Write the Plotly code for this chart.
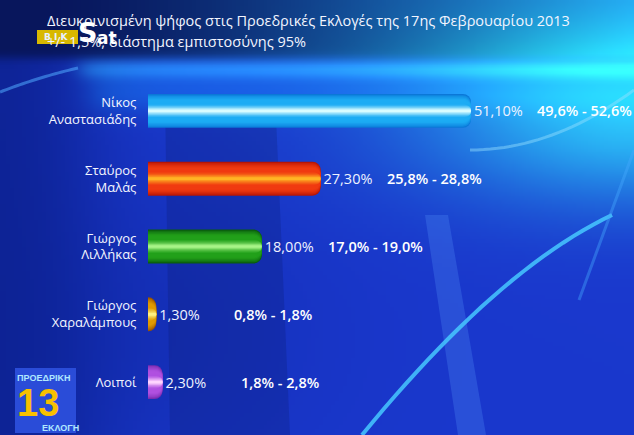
import base64, struct, zlib, math
import plotly.graph_objects as go

# ---------------- data ----------------
candidates = ["Νίκος<br>Αναστασιάδης", "Σταύρος<br>Μαλάς", "Γιώργος<br>Λιλλήκας",
              "Γιώργος<br>Χαραλάμπους", "Λοιποί"]
values = [51.1, 27.3, 18.0, 1.3, 2.3]
value_labels = ["51,10%", "27,30%", "18,00%", "1,30%", "2,30%"]
ci_labels = ["49,6% - 52,6%", "25,8% - 28,8%", "17,0% - 19,0%", "0,8% - 1,8%", "1,8% - 2,8%"]
title_line1 = "Διευκρινισμένη ψήφος στις Προεδρικές Εκλογές της 17ης Φεβρουαρίου 2013"
title_line2 = "+/- 1,5%, διάστημα εμπιστοσύνης 95%"

dark_colors = ["#0b78d8", "#b81606", "#0a5c0e", "#9a5400", "#7a2cb0"]
base_colors = ["#1cacf4", "#f03a10", "#22a01a", "#e09a00", "#b050e0"]
hi_colors = ["#d8fcff", "#ffb424", "#a8f488", "#fff080", "#ffd4ff"]

W, H = 634, 435
ML, MR, MT, MB = 148, 6, 77, 19
PW, PH = W - ML - MR, H - MT - MB
PX_PER_PCT = 6.32
xmax = PW / PX_PER_PCT
ROW_PX = PH / 5.0

# ---------------- helpers (style only) ----------------
def hex2rgb(h):
    h = h.lstrip("#")
    return tuple(int(h[i:i + 2], 16) for i in (0, 2, 4))

def mix(c1, c2, t):
    return tuple(a + (b - a) * t for a, b in zip(c1, c2))

def rgb(c):
    return "rgb(%d,%d,%d)" % tuple(int(round(x)) for x in c)

def make_png(w, h, fn):
    rows = []
    for j in range(h):
        row = bytearray([0])
        for i in range(w):
            c = fn((i + 0.5) / w, (j + 0.5) / h)
            row += bytes([max(0, min(255, int(x))) for x in c])
        rows.append(bytes(row))
    raw = b"".join(rows)
    def chunk(t, d):
        return struct.pack(">I", len(d)) + t + d + struct.pack(">I", zlib.crc32(t + d) & 0xffffffff)
    return (b"\x89PNG\r\n\x1a\n" + chunk(b"IHDR", struct.pack(">IIBBBBB", w, h, 8, 2, 0, 0, 0))
            + chunk(b"IDAT", zlib.compress(raw)) + chunk(b"IEND", b""))

def sig(z):
    return 1.0 / (1.0 + math.exp(-z))

def bg(u, v):
    x, y = u * W, v * H
    c = (26, 56, 205)
    c = mix(c, (8, 26, 125), 0.7 * sig((85 - x) / 30))
    c = mix(c, (10, 30, 140), 0.3 * math.exp(-((x - 120) / 200) ** 2 - ((y - 330) / 150) ** 2))
    tt = max(0.0, min(1.0, (x - 40) / 590)) ** 1.4
    top = mix((8, 22, 92), (34, 150, 236), tt)
    c = mix(c, top, sig((58 - y) / 2.5))
    band = math.exp(-((y - 69) / 10) ** 2) * sig((x - 80) / 6)
    c = tuple(a + d * band * (0.55 + 0.45 * u) for a, d in zip(c, (20, 95, 60)))
    band2 = math.exp(-((y - 92) / 22) ** 2) * sig((x - 90) / 8)
    c = tuple(a + d * band2 for a, d in zip(c, (0, 35, 25)))
    g = math.exp(-((x - 640) / 220) ** 2 - ((y - 115) / 85) ** 2)
    c = tuple(a + d * g for a, d in zip(c, (18, 140, 45)))
    return c

png = make_png(160, 110, bg)
src = "data:image/png;base64," + base64.b64encode(png).decode()

def px(x, y):
    return (x - ML) / PW, 1 - (y - MT) / PH

fig = go.Figure()

# ---------------- bars (layered for a cylindrical look) ----------------
N = 14
for k in range(N):
    s = k / (N - 1)
    w = 0.5 * (1 - 0.92 * s)
    cols = []
    for dc, bc, hc in zip(dark_colors, base_colors, hi_colors):
        d, b, h = hex2rgb(dc), hex2rgb(bc), hex2rgb(hc)
        if s < 0.35:
            col = mix(d, b, (s / 0.35) ** 0.7)
        elif s < 0.62:
            col = b
        else:
            col = mix(b, h, ((s - 0.62) / 0.38) ** 1.3)
        cols.append(rgb(col))
    kw = {}
    if k == 0:
        kw = dict(text=value_labels, textposition="outside", cliponaxis=False,
                  textfont=dict(family="Open Sans", size=14.5, color="#eef2ff"))
    fig.add_trace(go.Bar(
        y=candidates, x=values, orientation="h", width=w,
        marker=dict(color=cols, line=dict(width=0),
                    cornerradius=max(1, int(min(8, w * ROW_PX / 2)))),
        hoverinfo="skip", showlegend=False, **kw))

annotations = []
for c, v, ci in zip(candidates, values, ci_labels):
    shift = 64 + (12 if v < 5 else 0)
    annotations.append(dict(x=v, y=c, xref="x", yref="y", text=ci, showarrow=False,
                            xanchor="left", yanchor="middle", xshift=shift,
                            font=dict(family="Open Sans", size=14.5, color="#ffffff", weight=600)))

# title
for txt, yy in ((title_line1, 21), (title_line2, 42)):
    tx, ty = px(45, yy)
    annotations.append(dict(x=tx, y=ty, xref="paper", yref="paper", text=txt, showarrow=False,
                            xanchor="left", yanchor="middle",
                            font=dict(family="Open Sans", size=14.5, color="#f2f5ff")))

shapes = []
def path_px(pts, close=False):
    s = ""
    for n, (x, y) in enumerate(pts):
        a, b = px(x, y)
        s += ("M" if n == 0 else "L") + f"{a:.4f},{b:.4f} "
    if close:
        s += "Z"
    return s

T = [i / 24 for i in range(25)]
shapes.append(dict(type="path", xref="paper", yref="paper", layer="below",
                   path=path_px([(425, 215), (448, 215), (486, 435), (458, 435)], True),
                   fillcolor="rgba(80,140,245,0.30)", line=dict(width=0)))
shapes.append(dict(type="path", xref="paper", yref="paper", layer="below",
                   path=path_px([(165, 95), (275, 95), (290, 435), (170, 435)], True),
                   fillcolor="rgba(5,15,80,0.18)", line=dict(width=0)))
arc = [(612 - 230 * t - 20 * t * t, 215 + 110 * t + 110 * t * t) for t in T]
shapes.append(dict(type="path", xref="paper", yref="paper", layer="below",
                   path=path_px(arc), line=dict(color="rgba(70,200,255,0.85)", width=4)))
arc2 = [(634 - 55 * t, 150 + 150 * t) for t in T]
shapes.append(dict(type="path", xref="paper", yref="paper", layer="below",
                   path=path_px(arc2), line=dict(color="rgba(70,170,255,0.40)", width=3)))
arc3 = [(78 * t, 92 - 30 * t + 6 * t * t) for t in T]
shapes.append(dict(type="path", xref="paper", yref="paper", layer="below",
                   path=path_px(arc3), line=dict(color="rgba(80,170,255,0.55)", width=3)))
arc4 = [(470 + 164 * t, 150 - 60 * t * t) for t in T]
shapes.append(dict(type="path", xref="paper", yref="paper", layer="below",
                   path=path_px(arc4), line=dict(color="rgba(150,225,255,0.45)", width=3)))

# TV logos (decoration)
a, b = px(37, 30); c2, d2 = px(78, 44)
shapes.append(dict(type="rect", xref="paper", yref="paper", x0=a, y0=b, x1=c2, y1=d2,
                   fillcolor="#d8b800", line=dict(width=0)))
tx, ty = px(56, 37)
annotations.append(dict(x=tx, y=ty, xref="paper", yref="paper", text="<b>B I K</b>", showarrow=False,
                        xanchor="center", yanchor="middle", borderpad=0,
                        font=dict(family="DejaVu Sans", size=9, color="#e8f0ff")))
tx, ty = px(87, 33)
annotations.append(dict(x=tx, y=ty, xref="paper", yref="paper", text="<b>S</b>", showarrow=False,
                        xanchor="center", yanchor="middle", borderpad=0,
                        font=dict(family="DejaVu Sans", size=27, color="#ffffff")))
tx, ty = px(107, 38)
annotations.append(dict(x=tx, y=ty, xref="paper", yref="paper", text="<b>at</b>", showarrow=False,
                        xanchor="center", yanchor="middle", borderpad=0,
                        font=dict(family="DejaVu Sans", size=17, color="#ffffff")))
a, b = px(15, 368); c2, d2 = px(76, 433)
shapes.append(dict(type="rect", xref="paper", yref="paper", x0=a, y0=b, x1=c2, y1=d2,
                   fillcolor="#2a4cd8", line=dict(width=0)))
tx, ty = px(43, 378)
annotations.append(dict(x=tx, y=ty, xref="paper", yref="paper", text="<b>ΠΡΟΕΔΡΙΚΗ</b>", showarrow=False,
                        xanchor="center", yanchor="middle", borderpad=0,
                        font=dict(family="Liberation Sans Narrow, Liberation Sans", size=9, color="#b0e8ff")))
tx, ty = px(38, 403)
annotations.append(dict(x=tx, y=ty, xref="paper", yref="paper", text="<b>13</b>", showarrow=False,
                        xanchor="center", yanchor="middle", borderpad=0,
                        font=dict(family="Liberation Sans Narrow, Liberation Sans", size=38, color="#f8c000")))
tx, ty = px(60, 428)
annotations.append(dict(x=tx, y=ty, xref="paper", yref="paper", text="<b>ΕΚΛΟΓΗ</b>", showarrow=False,
                        xanchor="center", yanchor="middle", borderpad=0,
                        font=dict(family="Liberation Sans Narrow, Liberation Sans", size=9, color="#b0e8ff")))

fig.update_layout(
    width=W, height=H,
    margin=dict(l=ML, r=MR, t=MT, b=MB, autoexpand=False),
    barmode="overlay",
    paper_bgcolor="#1430b0",
    plot_bgcolor="rgba(0,0,0,0)",
    images=[dict(source=src, xref="paper", yref="paper", x=-ML / PW, y=1 + MT / PH,
                 sizex=W / PW, sizey=H / PH, sizing="stretch", layer="below",
                 xanchor="left", yanchor="top")],
    xaxis=dict(range=[0, xmax], visible=False, fixedrange=True),
    yaxis=dict(range=[4.5, -0.5], showgrid=False, zeroline=False, showline=False,
               ticks="outside", ticklen=8, tickcolor="rgba(0,0,0,0)", fixedrange=True,
               tickfont=dict(family="Open Sans", size=13, color="#f4f6ff")),
    annotations=annotations,
    shapes=shapes,
    showlegend=False,
    hovermode=False,
)

fig.write_html("out.html", config={"displayModeBar": False, "staticPlot": True},
               post_script="document.body.style.margin='0';")
